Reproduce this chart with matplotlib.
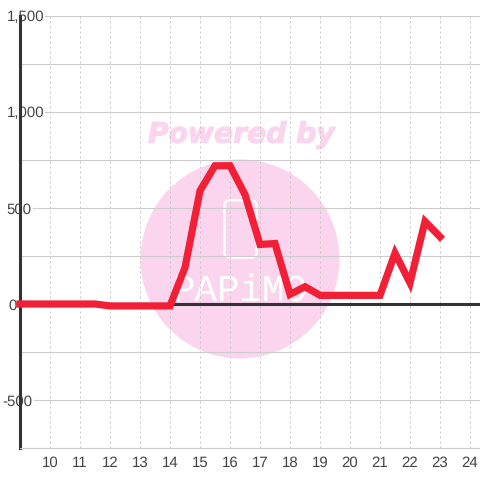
import matplotlib
matplotlib.use("Agg")
import matplotlib.pyplot as plt
import matplotlib.patheffects as pe
from matplotlib.patches import Circle, FancyBboxPatch
from matplotlib.ticker import MultipleLocator
from matplotlib.transforms import IdentityTransform

plt.rcParams["text.hinting"] = "none"

hours = [9, 9.5, 10, 10.5, 11, 11.5, 12, 12.5, 13, 13.5, 14, 14.5, 15, 15.5, 16, 16.5,
         17, 17.5, 18, 18.5, 19, 19.5, 20, 20.5, 21, 21.5, 22, 22.5, 23]
values = [0, 0, 0, 0, 0, 0, -10, -10, -10, -10, -10, 190, 590, 720, 720, 570,
          310, 315, 50, 90, 45, 45, 45, 45, 45, 265, 110, 430, 350]
y_ticks = [-500, 0, 500, 1000, 1500]
y_labels = ["-500", "0", "500", "1,000", "1,500"]
y_label_px = [2.5, 8, 6.5, 6.5, 6.5]
x_ticks = list(range(10, 25))

W = 480
fig = plt.figure(figsize=(4.8, 4.8), dpi=100, facecolor="white")
L, R, T, B = 20, 480, 16, 448
ax = fig.add_axes([L / W, (W - B) / W, (R - L) / W, (B - T) / W])
ax.patch.set_visible(False)

def px(x, y):
    return (x * fig.dpi / 100, (W - y) * fig.dpi / 100)

# Watermark, beneath the axes
pink = "#fbd5ee"
cx, cy = px(240, 259)
fig.add_artist(Circle((cx, cy), 99.5, transform=IdentityTransform(), fc=pink, ec="none", zorder=-5))
x0, y0 = px(224.5, 257.5)
fig.add_artist(FancyBboxPatch((x0, y0), 32, 57, boxstyle="round,pad=0,rounding_size=5",
                              transform=IdentityTransform(), fc="none", ec="white", lw=1.6, zorder=-4))
t = fig.text(241.5 / W, (W - 135) / W, "Powered by", color=pink, fontsize=20.3, fontweight="bold",
             fontstyle="italic", family="DejaVu Sans", ha="center", va="center", zorder=-4)
t.set_path_effects([pe.withStroke(linewidth=0.8, foreground=pink)])
fig.text(240 / W, (W - 291) / W, "PAPiMO", color="white", fontsize=27, family="Liberation Mono",
         ha="center", va="center", zorder=-4)

ax.set_xlim(9, 9 + (R - L) / 30)
ax.set_ylim(-750, 1500)
ax.set_xticks(x_ticks)
ax.set_yticks(y_ticks)
ax.set_yticklabels(y_labels)
ax.yaxis.set_minor_locator(MultipleLocator(250))

ax.grid(True, which="major", axis="y", color="#cccccc", lw=0.8, zorder=1)
ax.grid(True, which="minor", axis="y", color="#cccccc", lw=0.8, zorder=1)
ax.grid(True, which="major", axis="x", color="#c8c8c8", lw=0.72, ls=(0, (2, 3)), zorder=1)
ax.set_axisbelow(True)

for s in ["top", "right"]:
    ax.spines[s].set_visible(False)
ax.spines["bottom"].set_color("#cccccc")
ax.spines["bottom"].set_linewidth(0.8)
ax.spines["left"].set_color("#333333")
ax.spines["left"].set_linewidth(2.2)

ax.axhline(0, color="#333333", lw=2.2, zorder=2)
ax.plot(hours, values, color="#f22036", lw=5.2, solid_joinstyle="miter",
        solid_capstyle="projecting", zorder=3, clip_on=False)

ax.tick_params(axis="both", which="both", length=0, labelsize=10.8, labelcolor="#444444")
ax.tick_params(axis="x", pad=6)
for lab, xp in zip(ax.get_yticklabels(), y_label_px):
    lab.set_ha("left")
    lab.set_family("Liberation Sans")
    lab.set_x((xp - L) / (R - L))
    lab.set_bbox(dict(fc="white", ec="none", pad=1))
for lab in ax.get_xticklabels():
    lab.set_family("Liberation Sans")
ax.tick_params(axis="y", pad=0)

fig.savefig("out.png", dpi=100)
